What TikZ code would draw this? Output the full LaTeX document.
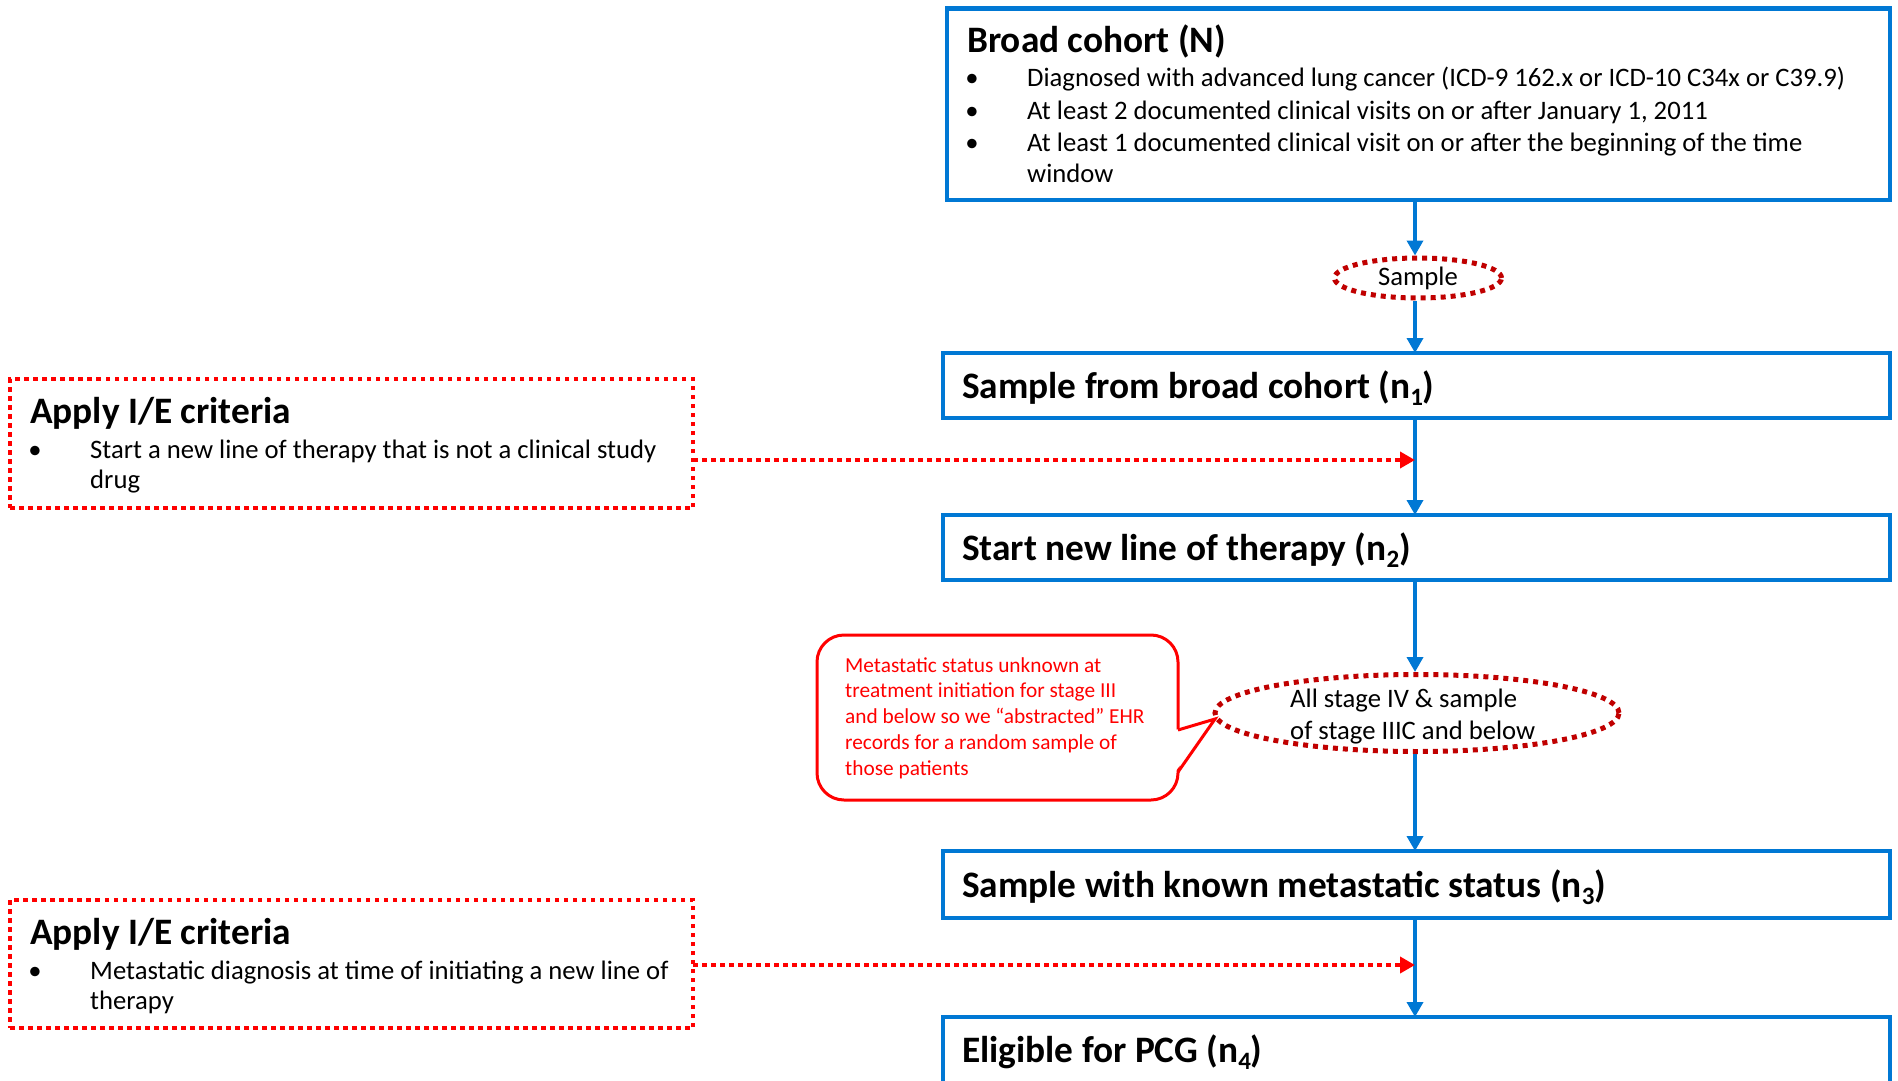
\documentclass[tikz,border=0pt]{standalone}
\usepackage{fontspec}
\setmainfont{Carlito}
\usetikzlibrary{arrows.meta,shapes.geometric}

\definecolor{flowblue}{RGB}{0,120,212}
\definecolor{critred}{RGB}{255,0,0}
\definecolor{ovalred}{RGB}{192,0,0}

% lowered index for the sample sizes n1..n4
\newcommand{\subidx}[1]{\raisebox{-0.2em}{\fontsize{25}{25}\selectfont #1}}

\begin{document}
\begin{tikzpicture}[x=1pt,y=-1pt,
  bluebox/.style={draw=flowblue, line width=4.5pt, inner sep=0pt, outer sep=0pt, anchor=north west},
  critbox/.style={draw=critred, line width=4.5pt, dash pattern=on 4.5pt off 4.5pt, inner sep=0pt, outer sep=0pt, anchor=north west},
  ovalshape/.style={ellipse, draw=ovalred, line width=5pt, dash pattern=on 5pt off 5pt, inner sep=0pt},
  flow/.style={draw=flowblue, line width=3.5pt, -{Triangle[length=15pt,width=16pt]}},
  critflow/.style={draw=critred, line width=4.5pt, dash pattern=on 4.5pt off 4.5pt, -{Triangle[length=15pt,width=16pt]}},
  boxtitle/.style={anchor=base west, inner sep=0pt, font=\fontsize{37.33}{44}\selectfont\bfseries},
  bodyline/.style={anchor=base west, inner sep=0pt, font=\fontsize{26.67}{32}\selectfont},
  bulletmark/.style={anchor=base, inner sep=0pt, font=\fontsize{26.67}{32}\selectfont},
  ovaltext/.style={anchor=base west, inner sep=0pt, font=\fontsize{26.67}{32}\selectfont},
  notetext/.style={anchor=base west, inner sep=0pt, text=critred, font=\fontsize{21.33}{26}\selectfont},
]
\useasboundingbox (0,0) rectangle (1898,1081);
\clip (0,0) rectangle (1898,1081);

\coordinate (spine) at (1415,0);

% ---- main column ----
\node[bluebox, minimum width=943pt, minimum height=191.5pt] (cohort) at (947,8.5) {};
\node[boxtitle] (cohortT) at (967,53) {Broad cohort (N)};
\foreach \yy [count=\i] in {87,119,151}
  \node[bulletmark] (cohortB\i) at (972,\yy) {\textbullet};
\node[bodyline] (cohortL1) at (1027,87) {Diagnosed with advanced lung cancer (ICD-9 162.x or ICD-10 C34x or C39.9)};
\node[bodyline] (cohortL2) at (1027,119) {At least 2 documented clinical visits on or after January 1, 2011};
\node[bodyline] (cohortL3) at (1027,151) {At least 1 documented clinical visit on or after the beginning of the time};
\node[bodyline] (cohortL4) at (1027,182) {window};

\node[ovalshape, minimum width=167pt, minimum height=40pt, font=\fontsize{26.67}{32}\selectfont] (sampleov) at (1418,278) {Sample};

\node[bluebox, minimum width=947pt, minimum height=65pt] (subset) at (943,353) {};
\node[boxtitle] (subsetT) at (962,398) {Sample from broad cohort (n\subidx{1})};

\node[bluebox, minimum width=947pt, minimum height=65pt] (therapy) at (943,515) {};
\node[boxtitle] (therapyT) at (962,560) {Start new line of therapy (n\subidx{2})};

\node[ovalshape, minimum width=404pt, minimum height=77pt] (stageov) at (1417,713) {};
\node[ovaltext] (stageL1) at (1290,707) {All stage IV \& sample};
\node[ovaltext] (stageL2) at (1290,739) {of stage IIIC and below};

\node[bluebox, minimum width=947pt, minimum height=67pt] (known) at (943,851) {};
\node[boxtitle] (knownT) at (962,897) {Sample with known metastatic status (n\subidx{3})};

\node[bluebox, minimum width=947pt, minimum height=67pt] (eligible) at (943,1017) {};
\node[boxtitle] (eligibleT) at (962,1062) {Eligible for PCG (n\subidx{4})};

\draw[flow] (cohort.south -| spine) -- (sampleov.north -| spine);
\draw[flow] (sampleov.south -| spine) -- (subset.north -| spine);
\draw[flow] (subset.south -| spine) -- (therapy.north -| spine);
\draw[flow] (therapy.south -| spine) -- (stageov.north -| spine);
\draw[flow] (stageov.south -| spine) -- (known.north -| spine);
\draw[flow] (known.south -| spine) -- (eligible.north -| spine);

% ---- inclusion / exclusion criteria ----
\node[critbox, minimum width=683pt, minimum height=129pt] (critA) at (10,379) {};
\node[boxtitle] (critAT) at (30,423) {Apply I/E criteria};
\node[bulletmark] (critAB) at (35,458) {\textbullet};
\node[bodyline] (critAL1) at (90,458) {Start a new line of therapy that is not a clinical study};
\node[bodyline] (critAL2) at (90,488) {drug};

\node[critbox, minimum width=683pt, minimum height=128pt] (critB) at (10,900) {};
\node[boxtitle] (critBT) at (30,944) {Apply I/E criteria};
\node[bulletmark] (critBB) at (35,979) {\textbullet};
\node[bodyline] (critBL1) at (90,979) {Metastatic diagnosis at time of initiating a new line of};
\node[bodyline] (critBL2) at (90,1009) {therapy};

\coordinate (joinA) at (1415,460);
\coordinate (joinB) at (1415,965);
\draw[critflow] (critA.east |- joinA) -- (joinA);
\draw[critflow] (critB.east |- joinB) -- (joinB);

% ---- note on the abstraction step ----
\node[draw=critred, line width=3pt, rounded corners=27pt, fill=white, minimum width=361pt, minimum height=165pt, anchor=north west, outer sep=0pt, inner sep=0pt] (note) at (817,635) {};
\coordinate (tip) at (1215,719);
\path (note.north east) ++(0,95) coordinate (pu) ++(0,42) coordinate (pl);
\fill[white] ([xshift=-3pt]pu) -- (tip) -- ([xshift=-3pt]pl) -- cycle;
\draw[critred, line width=3pt, line join=miter] (pu) -- (tip) -- (pl);
\foreach \t [count=\i] in {Metastatic status unknown at, treatment initiation for stage III, and below so we “abstracted” EHR, records for a random sample of, those patients}
  \node[notetext] (noteL\i) at (845,{672+25.8*(\i-1)}) {\t};
\end{tikzpicture}
\end{document}
